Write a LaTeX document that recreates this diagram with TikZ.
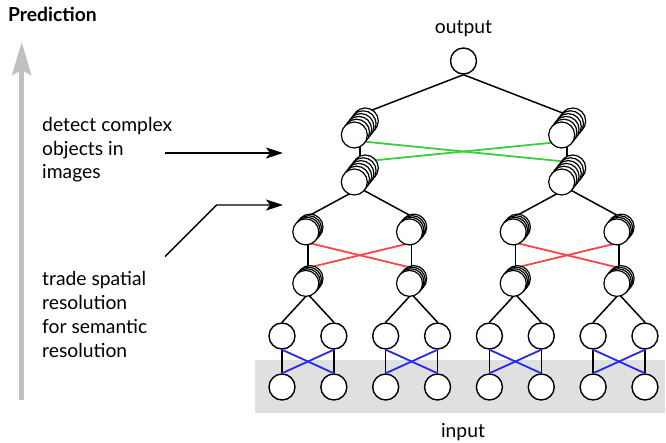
\documentclass[tikz,border=0pt]{standalone}
\usepackage{fontspec}
\setmainfont{Lato}
\usetikzlibrary{arrows.meta,calc}
\definecolor{boxgray}{RGB}{224,224,224}
\definecolor{arrowgray}{RGB}{192,192,192}
\definecolor{xgreen}{RGB}{60,205,60}
\definecolor{xred}{RGB}{250,70,70}
\definecolor{xblue}{RGB}{40,40,235}
\begin{document}
\begin{tikzpicture}[x=1pt,y=-1pt,
  lbl/.style={font=\fontsize{19.3}{23.7}\selectfont, align=left, inner sep=0pt},
  unit/.style={circle, draw=black, fill=white, line width=1.4pt, minimum size=26pt, inner sep=0pt},
  slot/.style={circle, minimum size=26pt, inner sep=0pt},
  link/.style={draw=black, line width=1.5pt},
  glink/.style={draw=xgreen, line width=1.8pt},
  rlink/.style={draw=xred, line width=1.8pt},
  blink/.style={draw=xblue, line width=1.8pt},
  ring/.style={draw=black, fill=white, line width=1.2pt},
  pointer/.style={draw=black, line width=1.4pt, -{Stealth[length=17pt,width=11pt,inset=4pt]}},
  bigarrow/.style={draw=arrowgray, line width=4.5pt, -{Stealth[length=33pt,width=19pt,inset=5pt]}}
]
\useasboundingbox (0,0) rectangle (666,443);
\fill[boxgray] (255,360) rectangle (665,413);

% logical positions
\foreach \i in {0,...,7} {
  \node[unit] (a\i) at ({282+51.85*\i},387) {};
  \node[unit] (b\i) at ({282+51.85*\i},336) {};
}
\foreach \j in {0,...,3} {
  \node[slot] (c\j) at ({307.9+103.7*\j},281) {};
  \node[slot] (d\j) at ({307.9+103.7*\j},229.5) {};
}
\foreach \k in {0,1} {
  \node[slot] (e\k) at ({359.8+207.4*\k},175) {};
  \node[slot] (f\k) at ({359.8+207.4*\k},128) {};
}
\node[unit] (out) at (463.5,61) {};

% tree edges
\draw[link] (out.south) -- (f0.north);
\draw[link] (out.south) -- (f1.north);
\foreach \k in {0,1} {
  \draw[link] (f\k.south) -- (e\k.north);
}
\draw[glink] (f0.south) -- (e1.north);
\draw[glink] (f1.south) -- (e0.north);
\draw[link] (e0.south) -- (d0.north);
\draw[link] (e0.south) -- (d1.north);
\draw[link] (e1.south) -- (d2.north);
\draw[link] (e1.south) -- (d3.north);
\foreach \j in {0,...,3} {
  \draw[link] (d\j.south) -- (c\j.north);
}
\draw[rlink] (d0.south) -- (c1.north);
\draw[rlink] (d1.south) -- (c0.north);
\draw[rlink] (d2.south) -- (c3.north);
\draw[rlink] (d3.south) -- (c2.north);
\draw[link] (c0.south) -- (b0.north);
\draw[link] (c0.south) -- (b1.north);
\draw[link] (c1.south) -- (b2.north);
\draw[link] (c1.south) -- (b3.north);
\draw[link] (c2.south) -- (b4.north);
\draw[link] (c2.south) -- (b5.north);
\draw[link] (c3.south) -- (b6.north);
\draw[link] (c3.south) -- (b7.north);
\foreach \i in {0,...,7} {
  \draw[link] (b\i.south) -- (a\i.north);
}
\draw[blink] (b0.south) -- (a1.north);
\draw[blink] (b1.south) -- (a0.north);
\draw[blink] (b2.south) -- (a3.north);
\draw[blink] (b3.south) -- (a2.north);
\draw[blink] (b4.south) -- (a5.north);
\draw[blink] (b5.south) -- (a4.north);
\draw[blink] (b6.south) -- (a7.north);
\draw[blink] (b7.south) -- (a6.north);

% stacked feature maps
\foreach \n in {e0,e1,f0,f1} {
  \foreach \s in {5,4,...,0} {
    \draw[ring] ($(\n)+({-5.5+2.2*\s},{7-2.8*\s})$) circle (13pt);
  }
}
\foreach \n in {c0,c1,c2,c3,d0,d1,d2,d3} {
  \foreach \s in {3,2,1,0} {
    \draw[ring] ($(\n)+({-2.1+1.4*\s},{2.4-1.6*\s})$) circle (13pt);
  }
}

% labels
\node[lbl, anchor=base] (tout) at (463.5,34) {output};
\node[lbl, anchor=base] (tin) at (463,437) {input};
\node[lbl, anchor=base west, font=\fontsize{19.3}{23}\selectfont\bfseries] (tpred) at (8,22) {Prediction};
\node[lbl, anchor=base west] (tdet) at (42,179) {detect complex\\objects in\\images};
\node[lbl, anchor=base west] (ttrade) at (42,357) {trade spatial\\resolution\\for semantic\\resolution};

% arrows
\coordinate (g0) at (21.7,400);
\coordinate (g1) at (21.7,42);
\draw[bigarrow] (g0) -- (g1);
\coordinate (p0) at (165,153);
\coordinate (p1) at (283,153);
\draw[pointer] (p0) -- (p1);
\coordinate (q0) at (165,256.7);
\coordinate (q1) at (216.7,205);
\coordinate (q2) at (283,205);
\draw[pointer] (q0) -- (q1) -- (q2);
\end{tikzpicture}
\end{document}
